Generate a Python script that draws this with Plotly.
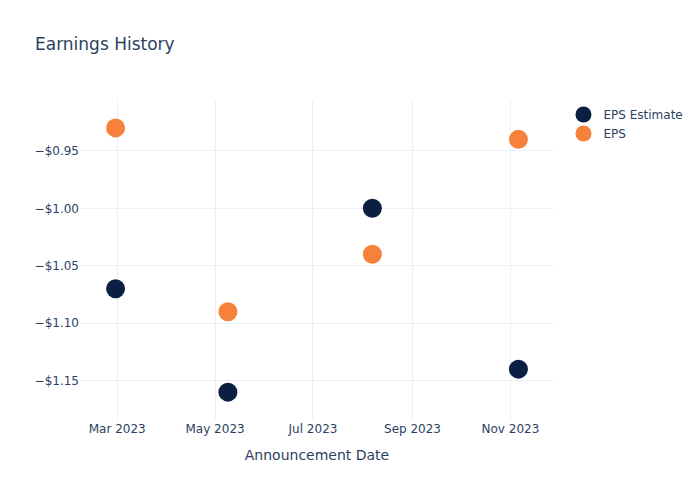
import plotly.graph_objects as go

dates = ["2023-02-28", "2023-05-09", "2023-08-07", "2023-11-06"]
eps_estimate = [-1.07, -1.16, -1.00, -1.14]
eps_actual = [-0.93, -1.09, -1.04, -0.94]

fig = go.Figure()
fig.add_trace(go.Scatter(x=dates, y=eps_estimate, mode="markers", name="EPS Estimate",
                         marker=dict(color="#0B1F42", size=19)))
fig.add_trace(go.Scatter(x=dates, y=eps_actual, mode="markers", name="EPS",
                         marker=dict(color="#F6813A", size=19)))
fig.update_layout(
    template="plotly_white",
    width=700, height=500,
    font=dict(family="DejaVu Sans"),
    title=dict(text="Earnings History"),
    xaxis=dict(title="Announcement Date", tickformat="%b %Y", dtick="M2"),
    yaxis=dict(tickformat="$.2f"),
)
fig.write_html("out.html")
